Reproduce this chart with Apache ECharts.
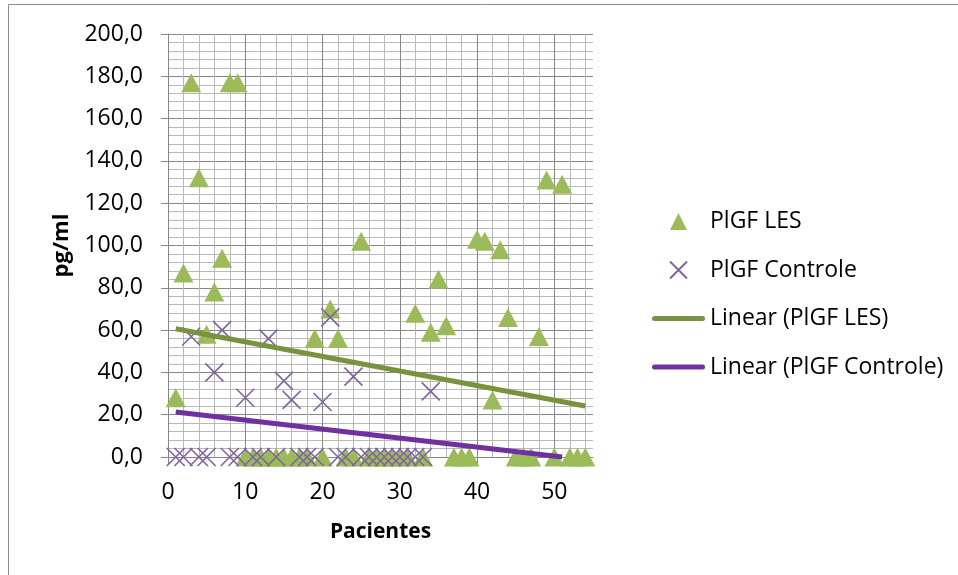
<!DOCTYPE html>
<html>
<head>
<meta charset="utf-8">
<script src="https://cdn.jsdelivr.net/npm/echarts@6/dist/echarts.min.js"></script>
<style>
  html, body { margin: 0; padding: 0; background: #fff; }
  #main { width: 958px; height: 575px; }
</style>
</head>
<body>
<div id="main"></div>
<script>
// PlGF LES, one value per patient (1..54)
var lesValues = [28, 87, 177, 132, 58, 78, 94, 177, 177, 0,
  0, 0, 0, 0, 0, 0, 0, 0, 56, 0,
  70, 56, 0, 0, 102, 0, 0, 0, 0, 0,
  0, 68, 0, 59, 84, 62, 0, 0, 0, 103,
  102, 27, 98, 66, 0, 0, 0, 57, 131, 0,
  129, 0, 0, 0];
// PlGF Controle, one value per patient (1..34)
var controleValues = [0, 0, 57, 0, 0, 40, 60, 0, 0, 28,
  0, 0, 56, 0, 36, 27, 0, 0, 0, 26,
  66, 0, 0, 38, 0, 0, 0, 0, 0, 0,
  0, 0, 0, 31];
// trend lines (start / end)
var trendLes = [[1, 60.6], [54, 24.1]];
var trendControle = [[1, 21.3], [51, 0]];
var xTicks = [0, 10, 20, 30, 40, 50];
var yTicks = [0, 20, 40, 60, 80, 100, 120, 140, 160, 180, 200];

function toPoints(arr) {
  return arr.map(function (v, i) { return [i + 1, v]; });
}

var FONT = '"Open Sans", sans-serif';
var major = '#868686';
var minor = '#b9b9b9';
var crossPath = 'path://M0,0L10,10M10,0L0,10';
var triPath = 'path://M5,0L10,10L0,10Z';
// rounded bar used as legend icon for the trend lines
var barIcon = 'path://M2.5,0L50.5,0A2.5,2.5,0,0,1,50.5,5L2.5,5A2.5,2.5,0,0,1,2.5,0Z';

var myChart = echarts.init(document.getElementById('main'));
myChart.setOption({
  animation: false,
  backgroundColor: '#fff',
  textStyle: { fontFamily: FONT },
  graphic: [{
    type: 'rect',
    shape: { x: 8.5, y: 4.5, width: 1000, height: 700 },
    style: { fill: 'none', stroke: '#8c8c8c', lineWidth: 1 },
    silent: true
  }],
  grid: { left: 168, right: 365, top: 34, bottom: 118 },
  legend: {
    orient: 'vertical',
    left: 647,
    top: 205,
    itemWidth: 53,
    itemHeight: 17,
    itemGap: 25.5,
    symbolKeepAspect: true,
    textStyle: { fontFamily: FONT, fontSize: 23, color: '#000' },
    data: [
      { name: 'PlGF LES', icon: triPath },
      { name: 'PlGF Controle', icon: crossPath },
      { name: 'Linear (PlGF LES)', icon: barIcon },
      { name: 'Linear (PlGF Controle)', icon: barIcon }
    ]
  },
  xAxis: {
    type: 'value',
    min: xTicks[0],
    max: 55,
    interval: xTicks[1] - xTicks[0],
    name: 'Pacientes',
    nameLocation: 'middle',
    nameGap: 65,
    nameTextStyle: { fontFamily: FONT, fontSize: 21, fontWeight: 'bold', color: '#000' },
    axisLine: { show: true, onZero: false, lineStyle: { color: major, width: 1 } },
    axisTick: { show: true, length: 7, lineStyle: { color: major } },
    axisLabel: {
      fontFamily: FONT, fontSize: 23, color: '#000', margin: 24, showMaxLabel: false,
      formatter: function (v) { return xTicks.indexOf(v) >= 0 ? String(v) : ''; }
    },
    splitLine: { show: true, showMaxLine: false, lineStyle: { color: major, width: 1 } },
    minorTick: { show: false, splitNumber: 5 },
    minorSplitLine: { show: true, lineStyle: { color: minor, width: 1 } }
  },
  yAxis: {
    type: 'value',
    min: yTicks[0],
    max: yTicks[yTicks.length - 1],
    interval: yTicks[1] - yTicks[0],
    name: 'pg/ml',
    nameLocation: 'middle',
    nameRotate: 90,
    nameGap: 95,
    nameTextStyle: { fontFamily: FONT, fontSize: 22, fontWeight: 'bold', color: '#000' },
    axisLine: { show: true, lineStyle: { color: major, width: 1 } },
    axisTick: { show: true, length: 7, lineStyle: { color: major } },
    axisLabel: {
      fontFamily: FONT, fontSize: 23, color: '#000', margin: 25,
      formatter: function (v) { return v.toFixed(1).replace('.', ','); }
    },
    splitLine: { show: true, lineStyle: { color: major, width: 1 } },
    minorTick: { show: false, splitNumber: 5 },
    minorSplitLine: { show: true, lineStyle: { color: minor, width: 1 } }
  },
  series: [
    {
      name: 'PlGF LES',
      type: 'scatter',
      symbol: 'triangle',
      symbolSize: [20, 19],
      itemStyle: { color: '#9BBB59', opacity: 1 },
      data: toPoints(lesValues)
    },
    {
      name: 'PlGF Controle',
      type: 'scatter',
      symbol: crossPath,
      symbolSize: 18,
      itemStyle: { color: 'rgba(0,0,0,0)', borderColor: '#8064A2', borderWidth: 1.6, opacity: 1 },
      data: toPoints(controleValues)
    },
    {
      name: 'Linear (PlGF LES)',
      type: 'line',
      symbol: 'none',
      clip: true,
      lineStyle: { color: '#77933C', width: 5 },
      itemStyle: { color: '#77933C' },
      data: trendLes
    },
    {
      name: 'Linear (PlGF Controle)',
      type: 'line',
      symbol: 'none',
      clip: true,
      lineStyle: { color: '#7030A0', width: 5 },
      itemStyle: { color: '#7030A0' },
      data: trendControle
    }
  ]
});
</script>
</body>
</html>
